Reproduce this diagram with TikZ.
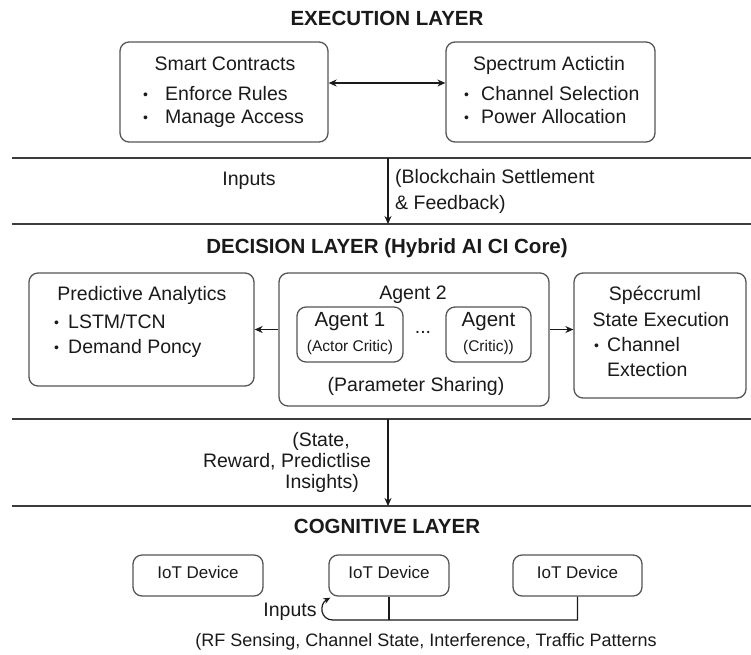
\documentclass[tikz,border=0pt]{standalone}
\usepackage{fontspec}
\setmainfont{Liberation Sans}
\usetikzlibrary{arrows.meta}
\definecolor{ink}{HTML}{1A1A1A}
\definecolor{frame}{HTML}{555555}
\definecolor{rule}{HTML}{3C3C3C}
\newcommand{\bul}[1]{\makebox[#1][l]{\raisebox{1.2pt}{\fontsize{14}{14}\selectfont\textbullet}}}
\newcommand{\fs}[1]{\fontsize{#1}{#1}\selectfont}

\begin{document}
\begin{tikzpicture}[x=1pt,y=-1pt,
  box/.style={draw=frame, line width=1.3pt, rounded corners=9pt, fill=white, inner sep=0pt},
  txt/.style={text=ink, inner sep=0pt, text height=0.72em, text depth=0.06em, font=\fs{19.5}},
  head/.style={txt, font=\fs{20.5}\bfseries},
  small/.style={txt, font=\fs{15.5}},
  dev/.style={txt, font=\fs{17}},
  note/.style={txt, font=\fs{18}},
  sep/.style={draw=rule, line width=1.5pt},
  link/.style={draw=ink, line width=1.2pt, -{Stealth[length=8pt,width=7pt]}},
  dlink/.style={draw=ink, line width=1.2pt, {Stealth[length=8pt,width=7pt]}-{Stealth[length=8pt,width=7pt]}},
]
\useasboundingbox (0,0) rectangle (751,654);
\fill[white] (0,0) rectangle (751,654);

% ---------------- layer separators ----------------
\draw[sep] (12,158) -- (751,158);
\draw[sep] (12,224) -- (751,224);
\draw[sep] (12,419) -- (751,419);
\draw[sep] (12,506) -- (751,506);

% ---------------- execution layer ----------------
\node[head] (exec) at (387,22) {EXECUTION LAYER};

\node[box, minimum width=208pt, minimum height=100pt] (sc) at (224,92) {};
\node[box, minimum width=209pt, minimum height=100pt] (sa) at (550.5,92) {};

\node[txt] (scT) at (225,67) {Smart Contracts};
\node[txt, anchor=west] (sc1) at (143,97) {\bul{22pt}Enforce Rules};
\node[txt, anchor=west] (sc2) at (143,120) {\bul{22pt}Manage Access};

\node[txt] (saT) at (549,67) {Spectrum Actictin};
\node[txt, anchor=west] (sa1) at (464,97) {\bul{17pt}Channel Selection};
\node[txt, anchor=west] (sa2) at (464,120) {\bul{17pt}Power Allocation};

\draw[dlink] ([yshift=9pt]sc.east) -- ([yshift=9pt]sa.west);

% ---------------- flow into decision layer ----------------
\coordinate (top1) at (388,158);
\coordinate (bot1) at (388,224);
\draw[link] (top1) -- (bot1);
\node[txt] (in1) at (249,182) {Inputs};
\node[txt, anchor=west] (fb1) at (395,180) {(Blockchain Settlement};
\node[txt, anchor=west] (fb2) at (395,206) {\& Feedback)};

% ---------------- decision layer ----------------
\node[head] (dec) at (387,250) {DECISION LAYER (Hybrid AI CI Core)};

\node[box, minimum width=225pt, minimum height=113pt] (pred) at (141.5,329.5) {};
\node[box, minimum width=270pt, minimum height=133pt] (agent) at (414,339.5) {};
\node[box, minimum width=172pt, minimum height=125pt] (spec) at (660,335.5) {};
\node[box, minimum width=106pt, minimum height=55pt] (a1) at (350,334.5) {};
\node[box, minimum width=85pt, minimum height=55pt] (a2) at (488.5,334.5) {};

\node[txt] (predT) at (142,297) {Predictive Analytics};
\node[txt, anchor=west] (pr1) at (54,325) {\bul{14pt}LSTM/TCN};
\node[txt, anchor=west] (pr2) at (54,350) {\bul{14pt}Demand Poncy};

\node[txt] (ag2) at (413,296) {Agent 2};
\node[txt, font=\fs{20.5}] (ag1) at (350,323) {Agent 1};
\node[small] (ag1s) at (350,348) {(Actor Critic)};
\node[txt] (dots) at (423,330) {...};
\node[txt, font=\fs{20.5}] (agn) at (488.5,323) {Agent};
\node[small] (agns) at (488.5,348) {(Critic))};
\node[txt] (share) at (416,388) {(Parameter Sharing)};

\node[txt] (spT) at (655,297) {Spéccruml};
\node[txt] (spS) at (661,323) {State Execution};
\node[txt, anchor=west] (sp1) at (594,348) {\bul{13pt}Channel};
\node[txt, anchor=west] (sp2) at (607,373) {Extection};

\draw[link] (agent.west |- pred.east) -- (pred.east);
\draw[link] (agent.east |- pred.east) -- (spec.west |- pred.east);

% ---------------- flow into cognitive layer ----------------
\coordinate (top2) at (388,419);
\coordinate (bot2) at (388,506);
\draw[link] (top2) -- (bot2);
\node[txt] (st1) at (321,443) {(State,};
\node[txt] (st2) at (287,464) {Reward, Predictlise};
\node[txt] (st3) at (322,485) {Insights)};

% ---------------- cognitive layer ----------------
\node[head] (cog) at (387,530) {COGNITIVE LAYER};

\node[box, minimum width=130pt, minimum height=41pt] (iot1) at (198,575.5) {};
\node[box, minimum width=120pt, minimum height=41pt] (iot2) at (389,575.5) {};
\node[box, minimum width=129pt, minimum height=41pt] (iot3) at (577.5,575.5) {};
\node[dev] (iot1T) at (iot1) {IoT Device};
\node[dev] (iot2T) at (iot2) {IoT Device};
\node[dev] (iot3T) at (iot3) {IoT Device};

\coordinate (busL) at (333,620);
\draw[draw=ink, line width=1.2pt] (iot2.south) -- (iot2.south |- busL);
\draw[draw=ink, line width=1.2pt, -{Stealth[length=7pt,width=6pt]}]
  (iot3.south) -- (iot3.south |- busL) -- (busL)
  .. controls (320,620) and (319,604) .. ([shift={(2pt,-1pt)}]iot2.south west);
\node[txt] (in2) at (290,613) {Inputs};
\node[note] (sense) at (426,643) {(RF Sensing, Channel State, Interference, Traffic Patterns};
\end{tikzpicture}
\end{document}
